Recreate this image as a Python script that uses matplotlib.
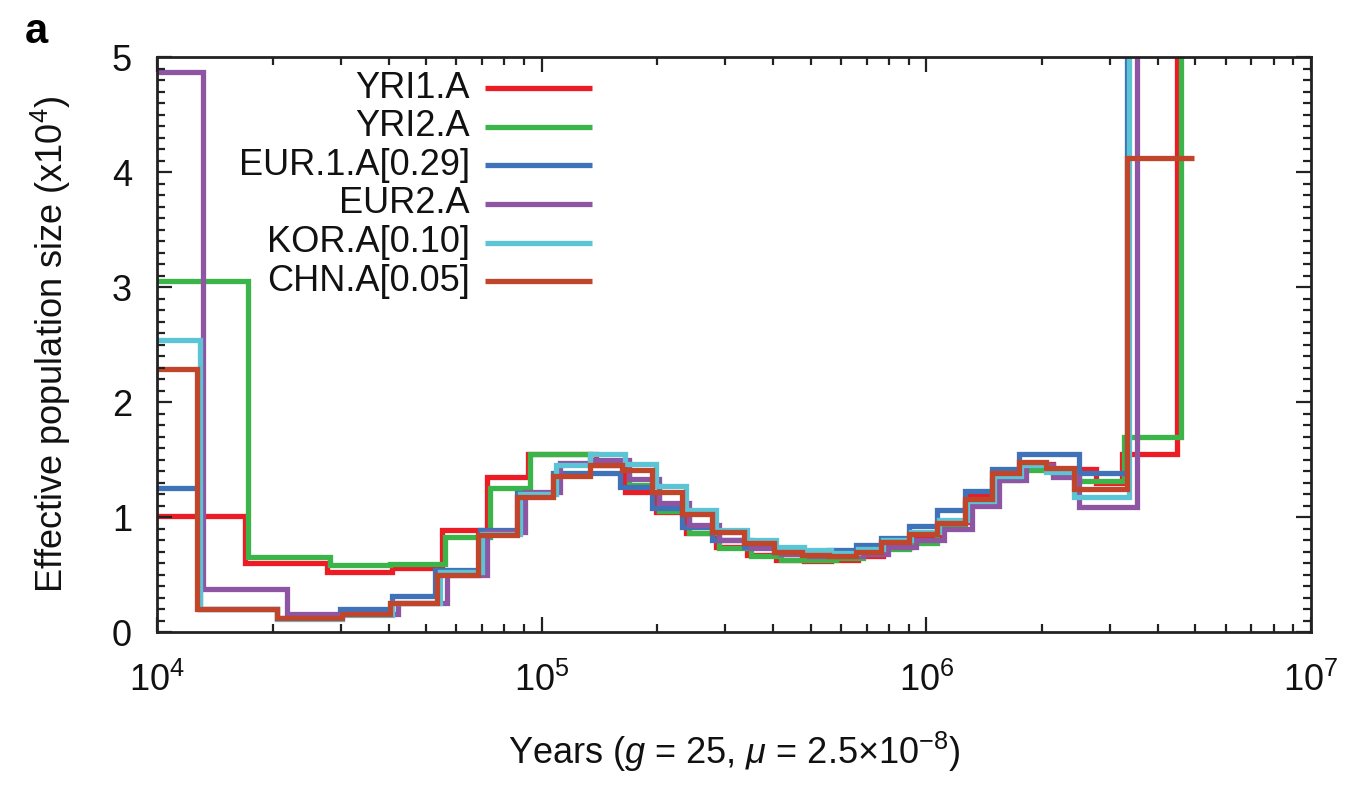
import matplotlib.pyplot as plt
import numpy as np
from matplotlib.ticker import LogLocator, MultipleLocator, NullFormatter

plt.rcParams['font.family'] = ['Liberation Sans', 'DejaVu Sans']
plt.rcParams['mathtext.fontset'] = 'custom'
plt.rcParams['mathtext.rm'] = 'Liberation Sans'
plt.rcParams['mathtext.it'] = 'Liberation Sans:italic'

# PSMC step curves: edges as log10(years), levels as Ne (x10^4)
yri1_edges = [4.0, 4.229, 4.442, 4.610, 4.740, 4.857, 4.964, 5.140, 5.216, 5.296,
              5.374, 5.452, 5.535, 5.610, 5.683, 5.753, 5.822, 5.888, 5.961, 6.034,
              6.106, 6.176, 6.247, 6.330, 6.442, 6.509, 6.652, 6.80]
yri1_ne = [1.01, 0.60, 0.52, 0.56, 0.89, 1.35, 1.55, 1.45, 1.22, 1.04,
           0.86, 0.74, 0.67, 0.63, 0.62, 0.63, 0.66, 0.74, 0.83, 0.96,
           1.18, 1.38, 1.46, 1.42, 1.30, 1.55, 8.0]

yri2_edges = [4.0, 4.236, 4.449, 4.605, 4.748, 4.865, 4.969, 5.125, 5.226, 5.306,
              5.384, 5.462, 5.545, 5.623, 5.696, 5.766, 5.836, 5.883, 5.956, 6.029,
              6.101, 6.171, 6.242, 6.330, 6.397, 6.514, 6.662, 6.80]
yri2_ne = [3.05, 0.65, 0.58, 0.59, 0.83, 1.25, 1.55, 1.47, 1.28, 1.05,
           0.86, 0.73, 0.66, 0.63, 0.63, 0.64, 0.68, 0.72, 0.77, 0.91,
           1.12, 1.32, 1.41, 1.38, 1.31, 1.70, 8.0]

eur1_edges = [4.0, 4.112, 4.312, 4.475, 4.610, 4.722, 4.839, 4.935, 5.029, 5.203,
              5.288, 5.366, 5.444, 5.527, 5.605, 5.678, 5.748, 5.818, 5.883, 5.956,
              6.029, 6.101, 6.171, 6.242, 6.397, 6.522, 6.70]
eur1_ne = [1.25, 0.20, 0.12, 0.20, 0.31, 0.54, 0.89, 1.21, 1.38, 1.26,
           1.08, 0.91, 0.80, 0.74, 0.70, 0.68, 0.71, 0.76, 0.82, 0.92,
           1.06, 1.23, 1.42, 1.55, 1.38, 8.0]

eur2_edges = [4.0, 4.119, 4.338, 4.626, 4.753, 4.857, 4.956, 5.047, 5.133, 5.226,
              5.306, 5.384, 5.462, 5.545, 5.623, 5.696, 5.766, 5.836, 5.901, 5.974,
              6.047, 6.119, 6.189, 6.260, 6.330, 6.397, 6.548, 6.75]
eur2_ne = [4.87, 0.37, 0.16, 0.25, 0.50, 0.87, 1.22, 1.47, 1.50, 1.33,
           1.12, 0.93, 0.80, 0.73, 0.68, 0.66, 0.66, 0.68, 0.74, 0.80,
           0.90, 1.10, 1.32, 1.45, 1.35, 1.09, 8.0]

kor_edges = [4.0, 4.112, 4.312, 4.481, 4.610, 4.735, 4.844, 4.943, 5.036, 5.125,
             5.216, 5.296, 5.374, 5.452, 5.535, 5.610, 5.683, 5.753, 5.822, 5.888,
             5.961, 6.034, 6.106, 6.176, 6.247, 6.312, 6.384, 6.527, 6.75]
kor_ne = [2.54, 0.20, 0.11, 0.15, 0.25, 0.52, 0.85, 1.20, 1.45, 1.55,
          1.46, 1.27, 1.06, 0.89, 0.80, 0.74, 0.71, 0.69, 0.72, 0.80,
          0.87, 0.97, 1.14, 1.36, 1.45, 1.39, 1.17, 8.0]

chn_edges = [4.0, 4.104, 4.312, 4.481, 4.605, 4.727, 4.834, 4.935, 5.029, 5.125,
             5.208, 5.288, 5.366, 5.444, 5.527, 5.605, 5.678, 5.748, 5.818, 5.883,
             5.956, 6.029, 6.101, 6.171, 6.242, 6.312, 6.384, 6.522, 6.696]
chn_ne = [2.29, 0.20, 0.12, 0.16, 0.25, 0.50, 0.84, 1.17, 1.36, 1.45,
          1.41, 1.22, 1.03, 0.87, 0.77, 0.70, 0.67, 0.66, 0.70, 0.78,
          0.85, 0.95, 1.16, 1.38, 1.48, 1.43, 1.24, 4.12]

labels = ['YRI1.A', 'YRI2.A', 'EUR.1.A[0.29]', 'EUR2.A', 'KOR.A[0.10]', 'CHN.A[0.05]']
colors = ['#ec1c24', '#3bb44a', '#3f72b9', '#8e55a3', '#5bc5d5', '#c0452a']
series = [(yri1_edges, yri1_ne), (yri2_edges, yri2_ne), (eur1_edges, eur1_ne),
          (eur2_edges, eur2_ne), (kor_edges, kor_ne), (chn_edges, chn_ne)]

fig = plt.figure(figsize=(13.56, 7.91), dpi=100)
ax = fig.add_axes([0.1158, 0.2010, 0.8510, 0.7269])

for (edges, ne), col in zip(series, colors):
    ax.stairs(ne, 10 ** np.array(edges), baseline=None, color=col,
              linewidth=3.8, joinstyle='miter')

ax.set_xscale('log')
ax.set_xlim(1e4, 1e7)
ax.set_ylim(0, 5)

# manual gnuplot-style key: right aligned text, line sample after it
for i, (lab, col) in enumerate(zip(labels, colors)):
    yk = 0.946 - i * 0.0672
    ax.text(0.271, yk, lab, transform=ax.transAxes, ha='right', va='center',
            fontsize=26, color='#111111')
    ax.plot([0.284, 0.377], [yk, yk], transform=ax.transAxes, color=col, linewidth=3.8,
            solid_capstyle='butt')

ax.xaxis.set_major_locator(LogLocator(base=10, numticks=10))
ax.xaxis.set_minor_locator(LogLocator(base=10, subs=np.arange(2, 10), numticks=20))
ax.xaxis.set_minor_formatter(NullFormatter())
ax.yaxis.set_major_locator(MultipleLocator(1))
ax.yaxis.set_minor_locator(MultipleLocator(0.1))

ax.tick_params(which='both', direction='in', top=True, right=True, width=1.6,
               colors='#222222', labelcolor='#111111')
ax.tick_params(which='major', length=11, labelsize=26)
ax.tick_params(which='minor', length=5.5)
ax.tick_params(axis='x', which='major', pad=22)
ax.tick_params(axis='y', which='major', pad=18)
for sp in ax.spines.values():
    sp.set_linewidth(2.0)
    sp.set_color('#222222')

ax.set_xlabel(r'Years ($g$ = 25, $\mu$ = 2.5×10$^{-8}$)', fontsize=26, labelpad=22,
              color='#111111')
ax.set_ylabel(r'Effective population size (x10$^4$)', fontsize=26, labelpad=28,
              color='#111111')

fig.text(0.018, 0.960, 'a', fontsize=30, fontweight='bold', ha='left', va='center')

plt.savefig('out.png', dpi=100)
